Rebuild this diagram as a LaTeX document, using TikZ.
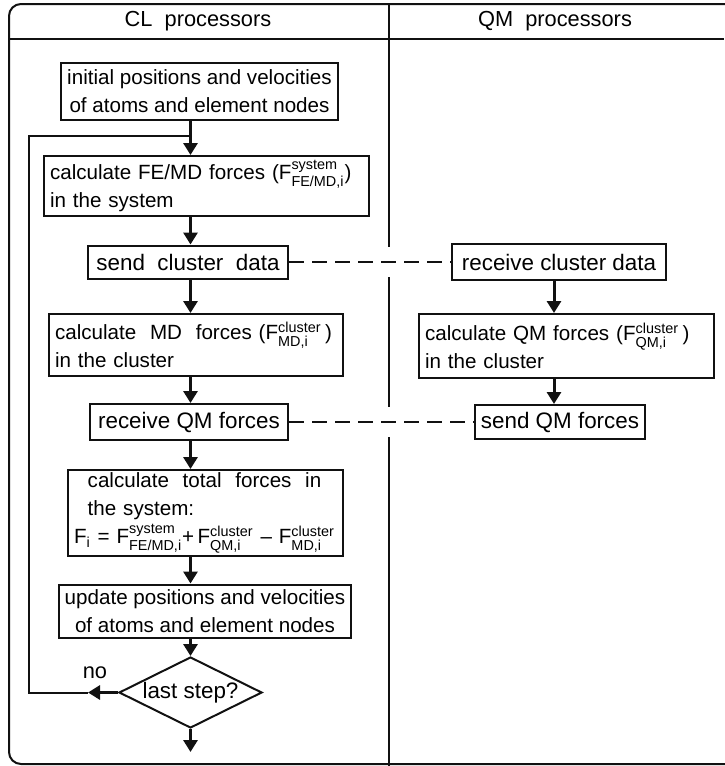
\documentclass[tikz,border=0pt]{standalone}
\usepackage{fontspec}
\setmainfont{Liberation Sans}
\usepackage{amsmath}
\usepackage{xcolor}
\usetikzlibrary{arrows.meta,calc,shapes.geometric}
\definecolor{Ink}{HTML}{111111}
\newcommand{\Fsym}[2]{F$^{\text{#1}}_{\text{#2}}$}
\tikzset{
 box/.style={draw=Ink, line width=1pt, fill=white, inner xsep=3pt, inner ysep=1pt, align=center, font=\fontsize{10.3}{14}\selectfont},
 lbox/.style={box, align=left},
 sbox/.style={box, font=\fontsize{11.2}{14}\selectfont},
 test/.style={sbox, diamond, aspect=2, inner sep=0pt},
 head/.style={font=\fontsize{10.9}{12}\selectfont},
 arrow/.style={-{Triangle[length=6pt,width=7pt]}, line width=1.5pt, draw=Ink},
 link/.style={line width=1pt, draw=Ink, dash pattern=on 7.5pt off 4pt},
 frame/.style={line width=1pt, draw=Ink}
}
\begin{document}
\begin{tikzpicture}[x=0.5pt,y=-0.5pt]
\useasboundingbox (0,0) rectangle (724,766);
% frame, header row and column divider
\draw[frame, rounded corners=6pt] (9,4) rectangle (760,764);
\draw[frame, line width=0.8pt] (9,39) -- (724,39);
\draw[frame, line width=0.8pt] (389,4) -- (389,247) (389,277) -- (389,407) (389,437) -- (389,766);
\node[head] (clhead) at (198,21) {CL\ \ processors};
\node[head] (qmhead) at (555,21) {QM\ \ processors};

% CL column
\coordinate (axis) at (190.5,0);
\node[box, minimum width=138.5pt, minimum height=28.5pt] (init) at (199.5,91.5) {initial positions and velocities\\of atoms and element nodes};
\node[lbox, text width=156.5pt, minimum height=30pt] (femd) at (206.5,186) {calculate FE/MD forces (\Fsym{system}{FE/MD,i})\\in the system};
\node[sbox, minimum width=100pt, minimum height=16.5pt] (send) at (188,262) {send\ \ cluster\ \ data};
\node[lbox, text width=141pt, minimum height=31pt] (mdcalc) at (196,345) {calculate\ \ MD\ \ forces (\Fsym{cluster}{MD,i}\,)\\in the cluster};
\node[sbox, minimum width=99pt, minimum height=18pt] (recvqm) at (189,422) {receive QM forces};
\node[lbox, text width=131.5pt, minimum height=43pt] (total) at (205.5,513) {\ \ calculate\ \ total\ \ forces\ \ in\\\ \ the system:\\F$_{\text{i}}$ = \Fsym{system}{FE/MD,i}+\,\Fsym{cluster}{QM,i} -- \Fsym{cluster}{MD,i}};
\node[box, minimum width=146pt, minimum height=26.5pt] (update) at (205,611) {update positions and velocities\\of atoms and element nodes};
\node[test, minimum width=71.5pt, minimum height=35.5pt] (last) at (190.5,692.5) {last step?};
\node[head] (nolabel) at (95,673) {no};

\coordinate (rejoin) at (190.5,136);
\coordinate (noend) at (88,692.5);
\coordinate (done) at (190.5,752);

\draw[arrow] (init.south -| axis) -- (femd.north -| axis);
\draw[arrow] (femd.south -| axis) -- (send.north -| axis);
\draw[arrow] (send.south -| axis) -- (mdcalc.north -| axis);
\draw[arrow] (mdcalc.south -| axis) -- (recvqm.north -| axis);
\draw[arrow] (recvqm.south -| axis) -- (total.north -| axis);
\draw[arrow] (total.south -| axis) -- (update.north -| axis);
\draw[arrow] (update.south -| axis) -- (last.north);
\draw[arrow] (last.south) -- (done);
% back to the top of the loop
\draw[arrow] (last.west) -- (noend);
\draw[frame] (noend) -- (29,692.5) |- (rejoin);

% QM column
\coordinate (qmaxis) at (554,0);
\node[sbox, minimum width=107pt, minimum height=18pt] (recvcl) at (559,262) {receive cluster data};
\node[lbox, text width=141.5pt, minimum height=32pt] (qmcalc) at (566.5,346) {calculate QM forces (\Fsym{cluster}{QM,i}\,)\\in the cluster};
\node[sbox, minimum width=83pt, minimum height=17pt] (sendqm) at (560,422) {send QM forces};

\draw[arrow] (recvcl.south -| qmaxis) -- (qmcalc.north -| qmaxis);
\draw[arrow] (qmcalc.south -| qmaxis) -- (sendqm.north -| qmaxis);

% data exchange between the two sides
\draw[link] (send.east) -- (recvcl.west);
\draw[link] (recvqm.east) -- (sendqm.west);
\end{tikzpicture}
\end{document}
